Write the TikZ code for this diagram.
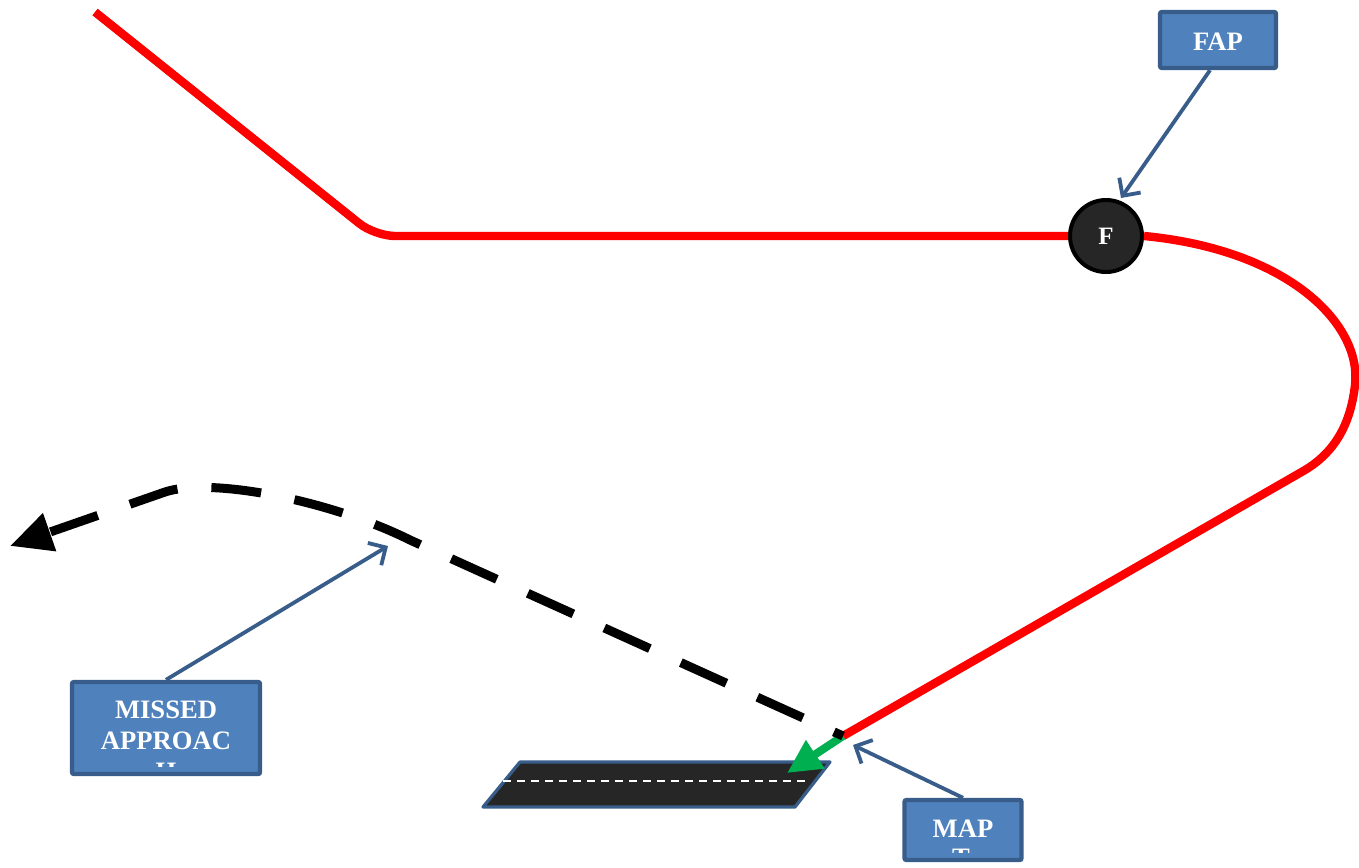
\documentclass[tikz,border=0pt]{standalone}
\usepackage{fontspec}
\setmainfont{Liberation Serif}
\usetikzlibrary{arrows.meta}
\definecolor{boxfill}{HTML}{4F81BD}
\definecolor{boxedge}{HTML}{385D8A}
\definecolor{asphalt}{HTML}{262626}
\definecolor{cuegreen}{HTML}{00B050}
\begin{document}
\begin{tikzpicture}[x=0.5pt,y=-0.5pt,
  route/.style={draw=red, line width=4.2pt},
  callout/.style={draw=boxedge, fill=boxfill, line width=2.2pt, rounded corners=1pt, inner sep=0pt},
  calltext/.style={text=white, font=\fontsize{13.3}{15}\selectfont\bfseries, inner sep=0pt, anchor=base},
  pointer/.style={draw=boxedge, line width=1.9pt, -{Straight Barb[length=6.5pt,width=13pt]}},
  missedpath/.style={draw=black, line width=4.5pt, dash pattern=on 25pt off 17pt, dash phase=20pt, -{Triangle[length=21pt,width=19pt]}},
]
\useasboundingbox (0,0) rectangle (1359,867);

% runway
\draw[draw=boxedge, fill=asphalt, line width=1.6pt, line join=round]
  (520,762) -- (830,762) -- (795,807) -- (483,807) -- cycle;
\draw[white, line width=0.9pt, dash pattern=on 4pt off 3pt] (503,781) -- (810,781);

% final approach fix
\node[circle, draw=black, fill=asphalt, line width=2pt, minimum size=36pt, inner sep=0pt,
      text=white, font=\fontsize{12.5}{14}\selectfont\bfseries] (fix) at (1106,236) {F};

% named points
\coordinate (mapt) at (843,736);
\coordinate (turn) at (1305,470);
\coordinate (touch) at (787,773);
\coordinate (fapmark) at (1121,198);
\coordinate (missmark) at (388,546);
\coordinate (mapmark) at (853,745);
\coordinate (outbound) at (10,546);

% approach track
\draw[route, rounded corners=10pt] (95,12) -- (375,236) -- (fix.west);
\draw[route] (fix.east) .. controls (1290,250) and (1362,325) .. (1355,385)
  .. controls (1350,430) and (1330,455) .. (turn) -- (mapt);

% descent cue onto runway
\draw[cuegreen, line width=4pt, -{Triangle[length=17pt,width=16pt]}] (mapt) -- (touch);

% missed approach track
\draw[missedpath] (mapt) -- (410,540) .. controls (330,500) and (210,477) .. (165,492) -- (outbound);

% callout boxes
\node[callout, minimum width=58pt, minimum height=28pt] (fap) at (1218,40) {};
\node[calltext] (faptxt) at (1218,50) {FAP};

\node[callout, minimum width=94pt, minimum height=46pt] (missed) at (166,728) {};
\begin{scope}
  \clip (75,685) rectangle (257,766);
  \node[calltext] (mtl1) at (166,718) {MISSED};
  \node[calltext] (mtl2) at (166,749) {APPROAC};
  \node[calltext] (mtl3) at (166,780) {H};
\end{scope}

\node[callout, minimum width=58.5pt, minimum height=30pt] (mapbox) at (963,830) {};
\begin{scope}
  \clip (908,803) rectangle (1018,852);
  \node[calltext] (mptl1) at (963,837) {MAP};
  \node[calltext] (mptl2) at (961,866) {T};
\end{scope}

% pointers
\draw[pointer] ([xshift=-4pt]fap.south) -- (fapmark);
\draw[pointer] (missed.north) -- (missmark);
\draw[pointer] (mapbox.north) -- (mapmark);
\end{tikzpicture}
\end{document}
